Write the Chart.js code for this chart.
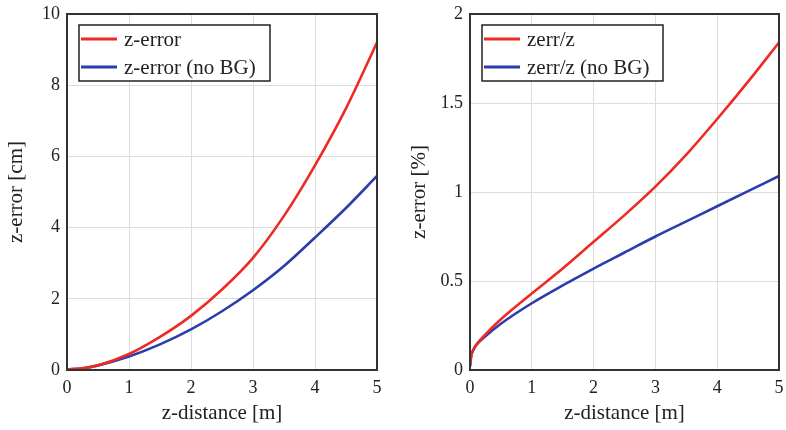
<!DOCTYPE html>
<html lang="en">
<head>
  <meta charset="UTF-8" />
  <title>z-error vs z-distance</title>
  <script src="https://cdn.jsdelivr.net/npm/chart.js"></script>
  <style>
    body { margin: 0; background: #fff; }
    .wrap { position: relative; width: 786px; height: 430px; }
    .box { position: absolute; top: 0; width: 393px; height: 430px; }
    #leftBox { left: 0; }
    #rightBox { left: 393px; }
  </style>
</head>
<body>
  <div class="wrap">
    <div class="box" id="leftBox"><canvas id="chartLeft"></canvas></div>
    <div class="box" id="rightBox"><canvas id="chartRight"></canvas></div>
  </div>

  <script>
    // left panel: absolute error [cm]
    const distLeft = [0, 0.25, 0.5, 1, 1.5, 2, 2.5, 3, 3.5, 4, 4.5, 5];
    const zErr     = [0.02, 0.05, 0.13, 0.45, 0.93, 1.52, 2.26, 3.15, 4.33, 5.75, 7.35, 9.2];
    const zErrNoBG = [0.02, 0.05, 0.13, 0.38, 0.72, 1.14, 1.65, 2.24, 2.92, 3.72, 4.55, 5.45];
    const yTicksLeft = [0, 2, 4, 6, 8, 10];

    // right panel: relative error [%]
    const distRight  = [0, 0.02, 0.05, 0.1, 0.25, 0.5, 1, 1.5, 2, 2.5, 3, 3.5, 4, 4.5, 5];
    const zRel       = [0.02, 0.08, 0.11, 0.14, 0.2, 0.285, 0.43, 0.57, 0.72, 0.87, 1.03, 1.21, 1.41, 1.62, 1.84];
    const zRelNoBG   = [0.02, 0.08, 0.11, 0.14, 0.19, 0.26, 0.375, 0.475, 0.57, 0.66, 0.75, 0.835, 0.92, 1.005, 1.09];
    const yTicksRight = [0, 0.5, 1, 1.5, 2];
    const xTicks = [0, 1, 2, 3, 4, 5];

    const RED = '#ee2a24';
    const BLUE = '#2c3cad';
    const SERIF = '"Liberation Serif", "DejaVu Serif", serif';
    const INK = '#222';

    function pts(xs, ys) {
      return xs.map((x, i) => ({ x: x, y: ys[i] }));
    }

    // frame round the plot + boxed legend in the upper left corner
    const framePlugin = {
      id: 'frame',
      afterDraw(chart, args, opts) {
        const ctx = chart.ctx;
        const a = chart.chartArea;
        ctx.save();
        ctx.strokeStyle = '#333';
        ctx.lineWidth = 2;
        ctx.strokeRect(a.left, a.top, a.right - a.left, a.bottom - a.top);

        const x = a.left + 12, y = a.top + 11;
        ctx.fillStyle = '#fff';
        ctx.fillRect(x, y, opts.width, 56);
        ctx.strokeStyle = '#222';
        ctx.lineWidth = 1.5;
        ctx.strokeRect(x, y, opts.width, 56);
        ctx.font = '21px ' + SERIF;
        ctx.textBaseline = 'middle';
        chart.data.datasets.forEach((ds, i) => {
          const ly = y + 14 + i * 28;
          ctx.strokeStyle = ds.borderColor;
          ctx.lineWidth = 3;
          ctx.beginPath();
          ctx.moveTo(x + 2, ly);
          ctx.lineTo(x + 38, ly);
          ctx.stroke();
          ctx.fillStyle = INK;
          ctx.fillText(ds.label, x + 45, ly + 1);
        });
        ctx.restore();
      }
    };

    function makeChart(id, cfg) {
      return new Chart(document.getElementById(id), {
        type: 'line',
        data: {
          datasets: cfg.series.map(s => ({
            label: s.label,
            data: s.data,
            borderColor: s.color,
            borderWidth: 2.6,
            pointRadius: 0,
            fill: false,
            cubicInterpolationMode: 'monotone'
          }))
        },
        options: {
          responsive: true,
          maintainAspectRatio: false,
          animation: false,
          layout: { autoPadding: false, padding: { top: 14, right: cfg.padRight, left: 0, bottom: 0 } },
          plugins: {
            legend: { display: false },
            tooltip: { enabled: false },
            frame: { width: cfg.legendWidth }
          },
          scales: {
            x: {
              type: 'linear',
              min: 0, max: 5,
              afterBuildTicks: s => { s.ticks = xTicks.map(v => ({ value: v })); },
              afterFit: s => { s.height = 60; s.paddingLeft = 0; s.paddingRight = 0; },
              grid: { color: '#dcdcdc', drawTicks: false },
              border: { display: false },
              ticks: { color: INK, padding: 7, font: { family: SERIF, size: 18 }, callback: v => String(v) },
              title: {
                display: true, text: 'z-distance [m]', color: INK,
                font: { family: SERIF, size: 21 }, padding: { top: 0, bottom: 4 }
              }
            },
            y: {
              min: 0, max: cfg.yMax,
              afterBuildTicks: s => { s.ticks = cfg.yTicks.map(v => ({ value: v })); },
              afterFit: s => { s.width = cfg.yWidth; s.paddingTop = 0; s.paddingBottom = 0; },
              grid: { color: '#dcdcdc', drawTicks: false },
              border: { display: false },
              ticks: { color: INK, padding: 7, font: { family: SERIF, size: 18 }, callback: v => String(v) },
              title: {
                display: true, text: cfg.yTitle, color: INK,
                font: { family: SERIF, size: 21 }, padding: { top: cfg.yTitlePad, bottom: 0 }
              }
            }
          }
        },
        plugins: [framePlugin]
      });
    }

    makeChart('chartLeft', {
      series: [
        { label: 'z-error', data: pts(distLeft, zErr), color: RED },
        { label: 'z-error (no BG)', data: pts(distLeft, zErrNoBG), color: BLUE }
      ],
      yMax: 10, yTicks: yTicksLeft, yTitle: 'z-error [cm]',
      yWidth: 67, yTitlePad: 4, padRight: 16, legendWidth: 191
    });

    makeChart('chartRight', {
      series: [
        { label: 'zerr/z', data: pts(distRight, zRel), color: RED },
        { label: 'zerr/z (no BG)', data: pts(distRight, zRelNoBG), color: BLUE }
      ],
      yMax: 2, yTicks: yTicksRight, yTitle: 'z-error [%]',
      yWidth: 77, yTitlePad: 14, padRight: 7, legendWidth: 181
    });
  </script>
</body>
</html>
